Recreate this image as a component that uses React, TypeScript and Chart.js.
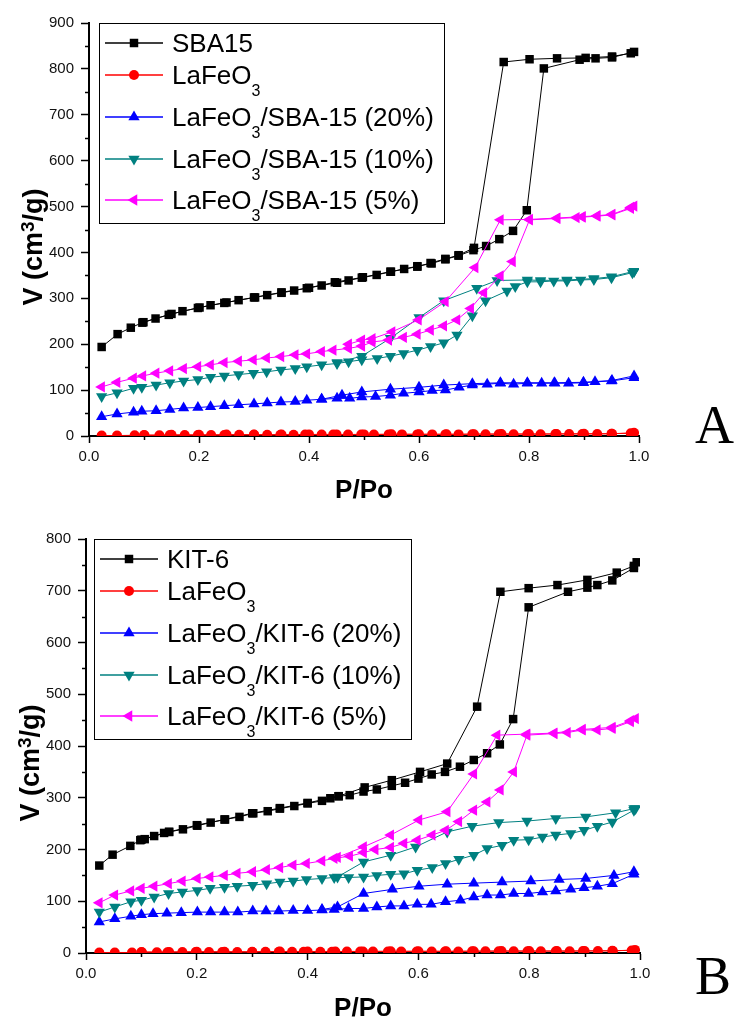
import React, { useEffect, useRef } from 'react';
import { Chart, registerables } from 'chart.js';
Chart.register(...registerables);

type Pt = [number, number];

// ---------------- Panel A (SBA-15) : [P/Po, V] ----------------
const SBA15_ADS: Pt[] = [[0.023,194],[0.052,222],[0.076,236],[0.097,247],[0.121,256],[0.145,264],[0.170,272],[0.198,279],[0.221,285],[0.246,290],[0.272,296],[0.302,302],[0.324,307],[0.350,312],[0.373,317],[0.396,322],[0.423,328],[0.451,334],[0.472,339],[0.496,345],[0.523,351],[0.549,358],[0.573,364],[0.597,370],[0.623,376],[0.648,385],[0.672,393],[0.699,405],[0.722,414],[0.746,429],[0.771,447],[0.796,492],[0.827,801],[0.892,820],[0.921,823],[0.951,825],[0.991,837]];
const SBA15_DES: Pt[] = [[0.985,834],[0.951,827],[0.903,824],[0.851,823],[0.801,821],[0.754,815],[0.700,410],[0.672,394],[0.648,386],[0.621,377],[0.597,369],[0.548,358],[0.498,346],[0.447,335],[0.400,323],[0.350,313],[0.300,302],[0.250,291],[0.201,280],[0.150,266],[0.099,248]];
const LFO_A_ADS: Pt[] = [[0.023,1],[0.051,1],[0.083,1.5],[0.101,1.5],[0.128,1.5],[0.147,2],[0.174,2],[0.198,2],[0.222,2],[0.246,2],[0.273,2.5],[0.300,2.5],[0.324,2.5],[0.348,2.5],[0.372,2.5],[0.393,3],[0.423,3],[0.444,3],[0.471,3],[0.495,3],[0.518,3],[0.545,3.5],[0.569,3.5],[0.597,3.5],[0.624,3.5],[0.648,3.5],[0.672,3.5],[0.697,4],[0.721,4],[0.745,4],[0.772,4],[0.797,4],[0.821,4],[0.848,4.5],[0.873,4.5],[0.897,4.5],[0.924,4.5],[0.951,5],[0.991,7]];
const LFO_A_DES: Pt[] = [[0.985,6],[0.950,5],[0.900,5],[0.850,4.5],[0.800,4.5],[0.750,4.5],[0.700,4],[0.650,4],[0.600,4],[0.550,4],[0.500,3.5],[0.450,3.5],[0.400,3.5],[0.350,3],[0.300,3],[0.250,3],[0.200,2.5],[0.150,2.5],[0.100,2]];
const S20_A_ADS: Pt[] = [[0.023,42],[0.051,48],[0.081,52],[0.096,54],[0.122,55],[0.147,58],[0.172,61],[0.198,62],[0.221,64],[0.246,66],[0.272,68],[0.300,70],[0.324,72],[0.349,74],[0.375,75],[0.396,78],[0.423,80],[0.451,82],[0.474,82],[0.496,85],[0.521,86],[0.548,89],[0.572,93],[0.600,96],[0.624,99],[0.648,100],[0.673,106],[0.697,111],[0.724,113],[0.748,115],[0.772,113],[0.797,115],[0.823,115],[0.847,115],[0.872,115],[0.899,116],[0.920,118],[0.950,120],[0.991,127]];
const S20_A_DES: Pt[] = [[0.991,131],[0.951,121],[0.899,117],[0.846,116],[0.797,116],[0.748,116],[0.697,114],[0.645,111],[0.600,106],[0.548,102],[0.496,96],[0.460,89],[0.423,80]];
const S10_A_ADS: Pt[] = [[0.023,86],[0.051,94],[0.081,104],[0.096,106],[0.122,111],[0.147,116],[0.172,120],[0.198,123],[0.221,128],[0.246,131],[0.272,134],[0.299,137],[0.323,140],[0.349,144],[0.375,147],[0.396,151],[0.423,155],[0.451,158],[0.472,162],[0.496,166],[0.524,169],[0.548,174],[0.572,180],[0.597,187],[0.621,195],[0.645,203],[0.669,220],[0.697,262],[0.721,295],[0.760,316],[0.775,326],[0.797,336],[0.821,336],[0.845,338],[0.869,338],[0.894,340],[0.918,341],[0.950,345],[0.988,356],[0.991,359]];
const S10_A_DES: Pt[] = [[0.991,359],[0.950,347],[0.918,343],[0.869,340],[0.821,339],[0.797,340],[0.742,339],[0.705,322],[0.645,295],[0.600,258],[0.548,213],[0.496,174],[0.451,160]];
const S05_A_ADS: Pt[] = [[0.023,107],[0.051,117],[0.081,126],[0.098,131],[0.122,137],[0.147,142],[0.172,147],[0.198,151],[0.221,155],[0.246,160],[0.272,163],[0.299,166],[0.323,170],[0.349,173],[0.375,177],[0.396,179],[0.423,184],[0.444,187],[0.472,191],[0.496,196],[0.515,205],[0.545,209],[0.572,215],[0.597,222],[0.621,231],[0.645,240],[0.669,253],[0.694,278],[0.718,312],[0.748,349],[0.770,380],[0.801,471],[0.851,474],[0.886,476],[0.897,477],[0.924,479],[0.951,482],[0.985,496],[0.991,501]];
const S05_A_DES: Pt[] = [[0.985,498],[0.951,483],[0.924,480],[0.897,478],[0.851,475],[0.801,472],[0.748,471],[0.702,367],[0.648,293],[0.599,253],[0.551,227],[0.515,212],[0.496,209],[0.472,200]];

// ---------------- Panel B (KIT-6) : [P/Po, V] ----------------
const KIT6_ADS: Pt[] = [[0.024,169],[0.048,190],[0.080,207],[0.098,218],[0.106,220],[0.123,226],[0.141,232],[0.150,234],[0.175,239],[0.201,246],[0.225,252],[0.251,258],[0.277,263],[0.302,270],[0.328,274],[0.350,279],[0.376,284],[0.400,289],[0.426,294],[0.441,299],[0.456,303],[0.476,305],[0.501,312],[0.525,316],[0.552,323],[0.576,329],[0.600,337],[0.624,345],[0.648,350],[0.675,360],[0.700,373],[0.724,386],[0.747,403],[0.771,452],[0.799,668],[0.870,698],[0.905,706],[0.923,711],[0.950,720],[0.989,744],[0.994,755]];
const KIT6_DES: Pt[] = [[0.989,748],[0.958,735],[0.905,721],[0.851,711],[0.799,705],[0.748,698],[0.706,476],[0.652,366],[0.603,350],[0.552,334],[0.503,320],[0.456,303],[0.400,290],[0.350,280],[0.300,270],[0.250,258],[0.200,247],[0.150,234],[0.100,219]];
const LFO_B_ADS: Pt[] = [[0.024,1],[0.052,1],[0.083,1],[0.101,1.5],[0.128,1.5],[0.147,1.5],[0.174,2],[0.198,2],[0.222,2],[0.246,2],[0.273,2],[0.300,2],[0.324,2.5],[0.348,2.5],[0.372,2.5],[0.393,2.5],[0.423,2.5],[0.444,2.5],[0.471,3],[0.495,3],[0.518,3],[0.545,3],[0.569,3],[0.597,3],[0.624,3],[0.648,3],[0.672,3],[0.697,3.5],[0.721,3.5],[0.745,3.5],[0.772,3.5],[0.797,3.5],[0.821,3.5],[0.848,3.5],[0.873,3.5],[0.897,4],[0.924,4],[0.951,4],[0.991,6]];
const LFO_B_DES: Pt[] = [[0.985,5],[0.950,4.5],[0.900,4],[0.850,4],[0.800,4],[0.750,4],[0.700,3.5],[0.650,3.5],[0.600,3.5],[0.550,3.5],[0.500,3],[0.450,3],[0.400,3],[0.350,3],[0.300,2.5],[0.250,2.5],[0.200,2.5],[0.150,2],[0.100,2]];
const K20_B_ADS: Pt[] = [[0.024,60],[0.052,66],[0.081,71],[0.100,74],[0.121,76],[0.146,77],[0.172,78],[0.201,79],[0.225,79],[0.250,79],[0.274,79],[0.301,81],[0.325,81],[0.348,81],[0.374,82],[0.400,82],[0.426,83],[0.448,84],[0.474,86],[0.501,86],[0.525,89],[0.550,91],[0.574,91],[0.598,94],[0.623,94],[0.649,99],[0.676,102],[0.700,108],[0.724,112],[0.748,112],[0.772,115],[0.799,115],[0.824,118],[0.848,120],[0.875,123],[0.899,126],[0.923,129],[0.950,134],[0.989,152]];
const K20_B_DES: Pt[] = [[0.989,157],[0.953,150],[0.902,144],[0.854,142],[0.803,139],[0.751,137],[0.700,135],[0.652,133],[0.601,129],[0.553,123],[0.501,115],[0.454,89],[0.426,84]];
const K10_B_ADS: Pt[] = [[0.024,79],[0.052,89],[0.081,99],[0.100,102],[0.123,108],[0.149,115],[0.174,118],[0.201,121],[0.224,125],[0.250,127],[0.273,129],[0.301,131],[0.326,134],[0.350,137],[0.374,139],[0.398,142],[0.426,144],[0.448,146],[0.474,146],[0.501,147],[0.525,150],[0.550,152],[0.574,153],[0.598,160],[0.625,165],[0.649,173],[0.673,181],[0.700,189],[0.724,202],[0.751,208],[0.772,218],[0.799,219],[0.824,224],[0.848,228],[0.875,231],[0.899,237],[0.923,245],[0.950,253],[0.989,276],[0.992,279]];
const K10_B_DES: Pt[] = [[0.989,279],[0.956,271],[0.902,263],[0.848,260],[0.796,255],[0.745,252],[0.697,245],[0.652,234],[0.595,205],[0.550,189],[0.501,176],[0.454,147]];
const K05_B_ADS: Pt[] = [[0.024,97],[0.052,112],[0.081,120],[0.100,125],[0.123,129],[0.149,134],[0.174,139],[0.201,144],[0.224,147],[0.250,150],[0.273,154],[0.301,157],[0.326,161],[0.350,165],[0.374,170],[0.398,173],[0.426,178],[0.448,183],[0.476,187],[0.501,194],[0.522,200],[0.550,204],[0.574,212],[0.598,218],[0.625,228],[0.649,237],[0.673,254],[0.700,276],[0.724,292],[0.748,315],[0.772,350],[0.796,421],[0.845,424],[0.869,426],[0.896,431],[0.923,431],[0.950,434],[0.983,447],[0.992,453]];
const K05_B_DES: Pt[] = [[0.983,449],[0.950,436],[0.896,432],[0.845,425],[0.796,423],[0.742,421],[0.700,346],[0.652,273],[0.601,257],[0.550,228],[0.501,205],[0.454,185]];

// legend labels: odd-index parts are subscripts
const LABELS_A: string[][] = [['SBA15'], ['LaFeO', '3'], ['LaFeO', '3', '/SBA-15 (20%)'], ['LaFeO', '3', '/SBA-15 (10%)'], ['LaFeO', '3', '/SBA-15 (5%)']];
const LABELS_B: string[][] = [['KIT-6'], ['LaFeO', '3'], ['LaFeO', '3', '/KIT-6 (20%)'], ['LaFeO', '3', '/KIT-6 (10%)'], ['LaFeO', '3', '/KIT-6 (5%)']];

const X_TICKS = [0, 0.2, 0.4, 0.6, 0.8, 1.0];
const Y_MAX_A = 900;
const Y_MAX_B = 800;
const Y_STEP = 100;

const STYLES = [
  { color: '#000000', shape: 'rect', rot: 0, r: 6 },
  { color: '#FF0000', shape: 'circle', rot: 0, r: 5 },
  { color: '#0000FF', shape: 'triangle', rot: 0, r: 6.5 },
  { color: '#008080', shape: 'triangle', rot: 180, r: 6.5 },
  { color: '#FF00FF', shape: 'triangle', rot: 270, r: 6.5 },
];

const SANS = '"Liberation Sans", Arial, Helvetica, sans-serif';
const SERIF = '"Liberation Serif", "Times New Roman", serif';

function drawMarker(ctx: CanvasRenderingContext2D, shape: string, x: number, y: number, r: number, rot: number, color: string) {
  ctx.fillStyle = color;
  ctx.beginPath();
  if (shape === 'rect') {
    const s = r * Math.SQRT1_2;
    ctx.rect(x - s, y - s, 2 * s, 2 * s);
  } else if (shape === 'circle') {
    ctx.arc(x, y, r, 0, Math.PI * 2);
  } else {
    let a = (rot * Math.PI) / 180;
    ctx.moveTo(x + Math.sin(a) * r, y - Math.cos(a) * r);
    for (let k = 0; k < 2; k++) {
      a += (2 * Math.PI) / 3;
      ctx.lineTo(x + Math.sin(a) * r, y - Math.cos(a) * r);
    }
    ctx.closePath();
  }
  ctx.fill();
}

interface PanelCfg {
  height: number;
  top: number;
  plotTop: number;
  plotBottom: number;
  yAxisW: number;
  plotRight: number;
  yMax: number;
  series: Pt[][];
  labels: string[][];
  legendDX: number;
  yTitleCY: number;
  yTitleX: number;
  xTitleY: number;
  letter: string;
  letterX: number;
  letterY: number;
}

const PANEL_A: PanelCfg = {
  height: 509, top: 0, plotTop: 23, plotBottom: 436, yAxisW: 89, plotRight: 639, yMax: Y_MAX_A,
  series: [[...SBA15_ADS, ...SBA15_DES], [...LFO_A_ADS, ...LFO_A_DES], [...S20_A_ADS, ...S20_A_DES], [...S10_A_ADS, ...S10_A_DES], [...S05_A_ADS, ...S05_A_DES]],
  labels: LABELS_A, legendDX: 10, yTitleCY: 247, yTitleX: 42, xTitleY: 498, letter: 'A', letterX: 695, letterY: 443,
};
const PANEL_B: PanelCfg = {
  height: 510, top: 509, plotTop: 30, plotBottom: 444, yAxisW: 86, plotRight: 640, yMax: Y_MAX_B,
  series: [[...KIT6_ADS, ...KIT6_DES], [...LFO_B_ADS, ...LFO_B_DES], [...K20_B_ADS, ...K20_B_DES], [...K10_B_ADS, ...K10_B_DES], [...K05_B_ADS, ...K05_B_DES]],
  labels: LABELS_B, legendDX: 8, yTitleCY: 254, yTitleX: 39, xTitleY: 507, letter: 'B', letterX: 695, letterY: 485,
};

function Panel({ cfg }: { cfg: PanelCfg }) {
  const ref = useRef<HTMLCanvasElement>(null);
  useEffect(() => {
    const canvas = ref.current!;
    const decor = {
      id: 'decor',
      afterDraw(chart: any) {
        const ctx: CanvasRenderingContext2D = chart.ctx;
        const ca = chart.chartArea;
        const xs = chart.scales.x;
        const ys = chart.scales.y;
        ctx.save();
        // minor ticks
        ctx.strokeStyle = '#000';
        ctx.lineWidth = 1.5;
        for (let v = Y_STEP / 2; v < cfg.yMax; v += Y_STEP) {
          const py = Math.round(ys.getPixelForValue(v)) + 0.5;
          ctx.beginPath();
          ctx.moveTo(ca.left - 4, py);
          ctx.lineTo(ca.left, py);
          ctx.stroke();
        }
        for (let i = 0; i < X_TICKS.length - 1; i++) {
          const v = (X_TICKS[i] + X_TICKS[i + 1]) / 2;
          const px = Math.round(xs.getPixelForValue(v)) + 0.5;
          ctx.beginPath();
          ctx.moveTo(px, ca.bottom);
          ctx.lineTo(px, ca.bottom + 4);
          ctx.stroke();
        }
        // x title
        ctx.fillStyle = '#000';
        ctx.font = 'bold 26px ' + SANS;
        ctx.textAlign = 'center';
        ctx.textBaseline = 'alphabetic';
        ctx.fillText('P/Po', (ca.left + ca.right) / 2, cfg.xTitleY);
        // y title with superscript
        ctx.save();
        ctx.translate(cfg.yTitleX, cfg.yTitleCY);
        ctx.rotate(-Math.PI / 2);
        ctx.textAlign = 'left';
        const mainF = 'bold 27px ' + SANS;
        const supF = 'bold 19px ' + SANS;
        ctx.font = mainF;
        const w1 = ctx.measureText('V (cm').width;
        const w3 = ctx.measureText('/g)').width;
        ctx.font = supF;
        const w2 = ctx.measureText('3').width;
        let tx = -(w1 + w2 + w3) / 2;
        ctx.font = mainF;
        ctx.fillText('V (cm', tx, 0);
        tx += w1;
        ctx.font = supF;
        ctx.fillText('3', tx, -8);
        tx += w2;
        ctx.font = mainF;
        ctx.fillText('/g)', tx, 0);
        ctx.restore();
        // legend
        const lx = ca.left + cfg.legendDX;
        const ly = ca.top;
        const mainL = '26px ' + SANS;
        const subL = '16px ' + SANS;
        const widths = cfg.labels.map((parts) => {
          let w = 0;
          parts.forEach((p, k) => {
            ctx.font = k % 2 === 1 ? subL : mainL;
            w += ctx.measureText(p).width;
          });
          return w;
        });
        const boxW = 73 + Math.max(...widths) + 10;
        const boxH = 200;
        ctx.fillStyle = '#fff';
        ctx.fillRect(lx, ly, boxW, boxH);
        ctx.strokeStyle = '#000';
        ctx.lineWidth = 1;
        ctx.strokeRect(Math.round(lx) + 0.5, Math.round(ly) + 0.5, Math.round(boxW), boxH);
        const rows = [20, 52, 94, 136, 177];
        cfg.labels.forEach((parts, i) => {
          const st = STYLES[i];
          const y = ly + rows[i];
          ctx.strokeStyle = st.color;
          ctx.lineWidth = 1.3;
          ctx.beginPath();
          ctx.moveTo(lx + 6, y);
          ctx.lineTo(lx + 64, y);
          ctx.stroke();
          drawMarker(ctx, st.shape, lx + 35, y, st.r, st.rot, st.color);
          ctx.fillStyle = '#000';
          ctx.textAlign = 'left';
          let tx2 = lx + 73;
          parts.forEach((p, k) => {
            const sub = k % 2 === 1;
            ctx.font = sub ? subL : mainL;
            ctx.fillText(p, tx2, y + 9 + (sub ? 12 : 0));
            tx2 += ctx.measureText(p).width;
          });
        });
        // panel letter
        ctx.fillStyle = '#000';
        ctx.font = '54px ' + SERIF;
        ctx.textAlign = 'left';
        ctx.fillText(cfg.letter, cfg.letterX, cfg.letterY);
        ctx.restore();
      },
    };

    const datasets = cfg.series.map((pts, i) => ({
      label: cfg.labels[i].join(''),
      data: pts.map(([x, y]) => ({ x, y })),
      showLine: true,
      borderColor: STYLES[i].color,
      backgroundColor: STYLES[i].color,
      borderWidth: 1,
      pointStyle: STYLES[i].shape,
      pointRotation: STYLES[i].rot,
      pointRadius: STYLES[i].r,
      pointBorderWidth: 0,
      pointBackgroundColor: STYLES[i].color,
      order: 5 - i,
    }));

    const chart = new Chart(canvas, {
      type: 'scatter',
      data: { datasets },
      options: {
        responsive: false,
        animation: false,
        devicePixelRatio: 1,
        layout: { padding: { top: cfg.plotTop, right: 734 - cfg.plotRight, left: 0, bottom: 0 } },
        plugins: { legend: { display: false }, tooltip: { enabled: false } },
        scales: {
          x: {
            type: 'linear',
            min: 0,
            max: 1,
            afterFit: (s: any) => { s.height = cfg.height - cfg.plotBottom; },
            afterBuildTicks: (s: any) => { s.ticks = X_TICKS.map((v) => ({ value: v })); },
            ticks: {
              font: { family: SANS, size: 15 },
              color: '#111',
              padding: 5,
              maxRotation: 0,
              autoSkip: false,
              callback: (v: any) => Number(v).toFixed(1),
            },
            grid: { display: true, drawOnChartArea: false, drawTicks: true, tickLength: 7, tickWidth: 1.5, tickColor: '#000', color: '#000' },
            border: { display: true, color: '#000', width: 2 },
          },
          y: {
            type: 'linear',
            min: 0,
            max: cfg.yMax,
            afterFit: (s: any) => { s.width = cfg.yAxisW; },
            ticks: {
              stepSize: Y_STEP,
              font: { family: SANS, size: 15 },
              color: '#111',
              padding: 7,
              callback: (v: any) => String(v),
            },
            grid: { display: true, drawOnChartArea: false, drawTicks: true, tickLength: 8, tickWidth: 1.5, tickColor: '#000', color: '#000' },
            border: { display: true, color: '#000', width: 2 },
          },
        },
      },
      plugins: [decor],
    } as any);
    return () => chart.destroy();
  }, [cfg]);
  return (
    <canvas
      ref={ref}
      width={734}
      height={cfg.height}
      style={{ position: 'absolute', left: 0, top: cfg.top, width: 734, height: cfg.height, display: 'block' }}
    />
  );
}

export default function App() {
  return (
    <div style={{ position: 'absolute', left: 0, top: 0, width: 734, height: 1019, background: '#fff', overflow: 'hidden' }}>
      <Panel cfg={PANEL_A} />
      <Panel cfg={PANEL_B} />
    </div>
  );
}
